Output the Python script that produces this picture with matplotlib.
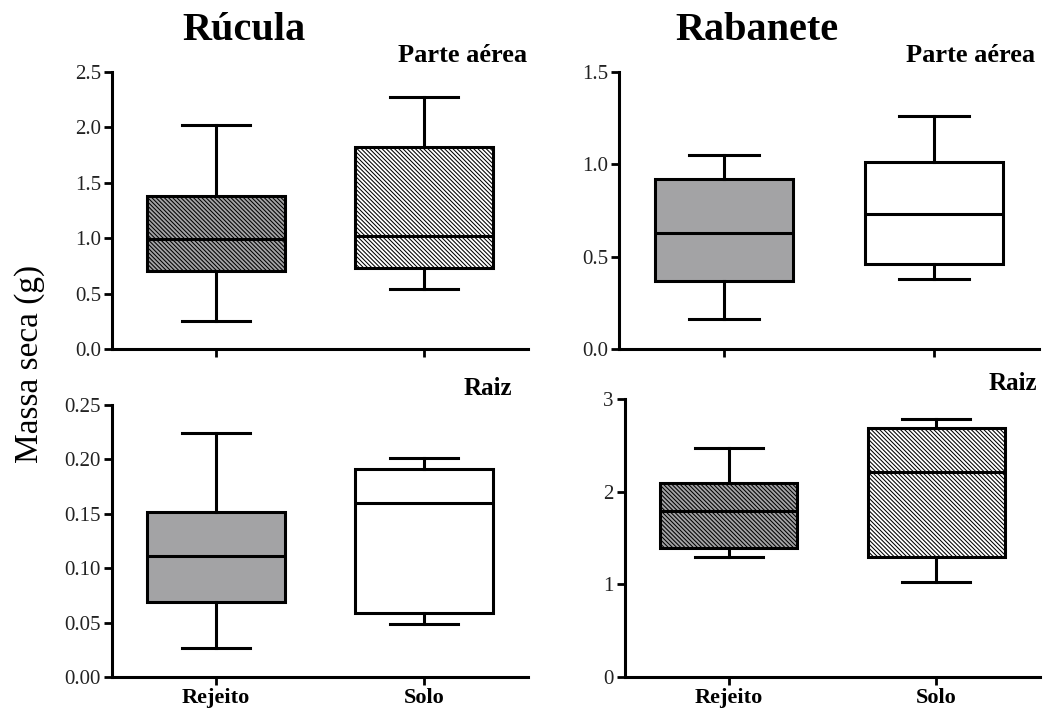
import matplotlib
matplotlib.use("Agg")
import matplotlib.pyplot as plt

plt.rcParams["font.family"] = ["Liberation Serif", "DejaVu Serif"]
plt.rcParams["hatch.linewidth"] = 0.75

groups = ["Rejeito", "Solo"]

# five-number summaries per group: whisker low, Q1, median, Q3, whisker high
rucula_aerea = [[0.25, 0.70, 0.99, 1.38, 2.02],
                [0.54, 0.73, 1.02, 1.82, 2.27]]
rabanete_aerea = [[0.16, 0.37, 0.63, 0.92, 1.05],
                  [0.38, 0.46, 0.73, 1.01, 1.26]]
rucula_raiz = [[0.027, 0.069, 0.111, 0.152, 0.224],
               [0.049, 0.059, 0.160, 0.191, 0.201]]
rabanete_raiz = [[1.29, 1.39, 1.79, 2.09, 2.47],
                 [1.03, 1.30, 2.21, 2.69, 2.78]]

yticks_rucula_aerea = [0.0, 0.5, 1.0, 1.5, 2.0, 2.5]
yticks_rabanete_aerea = [0.0, 0.5, 1.0, 1.5]
yticks_rucula_raiz = [0.00, 0.05, 0.10, 0.15, 0.20, 0.25]
yticks_rabanete_raiz = [0, 1, 2, 3]

GRAY = "#a3a3a5"
HATCH = "\\" * 8

fig = plt.figure(figsize=(10.43, 7.14), dpi=100)
W, H = 1043.0, 714.0


def axes_px(left, right, top, bottom):
    return fig.add_axes([left / W, 1 - bottom / H, (right - left) / W, (bottom - top) / H])


def draw_panel(ax, summaries, yticks, fmt, hatched, show_x):
    stats = []
    for lo, q1, med, q3, hi in summaries:
        stats.append(dict(whislo=lo, q1=q1, med=med, q3=q3, whishi=hi, fliers=[]))
    lw = 2.2
    bp = ax.bxp(stats, positions=[0, 1], widths=0.66, patch_artist=True,
                showfliers=False,
                boxprops=dict(linewidth=lw, edgecolor="black"),
                medianprops=dict(linewidth=lw, color="black"),
                whiskerprops=dict(linewidth=lw, color="black"),
                capprops=dict(linewidth=lw, color="black"))
    for patch, face in zip(bp["boxes"], [GRAY, "white"]):
        patch.set_facecolor(face)
        if hatched:
            patch.set_hatch(HATCH)
    ax.set_xlim(-0.5, 1.5)
    ax.set_ylim(yticks[0], yticks[-1])
    ax.set_yticks(yticks)
    ax.set_yticklabels([fmt.format(t) for t in yticks], fontsize=15, color="#222222")
    ax.set_xticks([0, 1])
    if show_x:
        ax.set_xticklabels(groups, fontsize=16, fontweight="bold")
    else:
        ax.set_xticklabels([])
    for side in ("top", "right"):
        ax.spines[side].set_visible(False)
    for side in ("left", "bottom"):
        ax.spines[side].set_linewidth(2.2)
    ax.tick_params(axis="both", width=2.0, length=6, pad=2, direction="out")
    ax.set_facecolor("none")


ax1 = axes_px(112, 528, 72, 349)
draw_panel(ax1, rucula_aerea, yticks_rucula_aerea, "{:.1f}", True, False)

ax2 = axes_px(619, 1039, 72, 349)
draw_panel(ax2, rabanete_aerea, yticks_rabanete_aerea, "{:.1f}", False, False)

ax3 = axes_px(112, 528, 405, 677)
draw_panel(ax3, rucula_raiz, yticks_rucula_raiz, "{:.2f}", False, True)

ax4 = axes_px(625, 1040, 399, 677)
draw_panel(ax4, rabanete_raiz, yticks_rabanete_raiz, "{:.0f}", True, True)

# column titles and panel labels
fig.text(244 / W, 1 - 30 / H, "Rúcula", fontsize=29, fontweight="bold",
         ha="center", va="center")
fig.text(757 / W, 1 - 30 / H, "Rabanete", fontsize=29, fontweight="bold",
         ha="center", va="center")
fig.text(527 / W, 1 - 55 / H, "Parte aérea", fontsize=19, fontweight="bold",
         ha="right", va="center")
fig.text(1035 / W, 1 - 55 / H, "Parte aérea", fontsize=19, fontweight="bold",
         ha="right", va="center")
fig.text(512 / W, 1 - 389 / H, "Raiz", fontsize=18, fontweight="bold",
         ha="right", va="center")
fig.text(1037 / W, 1 - 384 / H, "Raiz", fontsize=18, fontweight="bold",
         ha="right", va="center")
fig.text(30 / W, 1 - 364 / H, "Massa seca (g)", fontsize=24, rotation=90,
         ha="center", va="center")

fig.savefig("out.png", dpi=100, facecolor="white")
